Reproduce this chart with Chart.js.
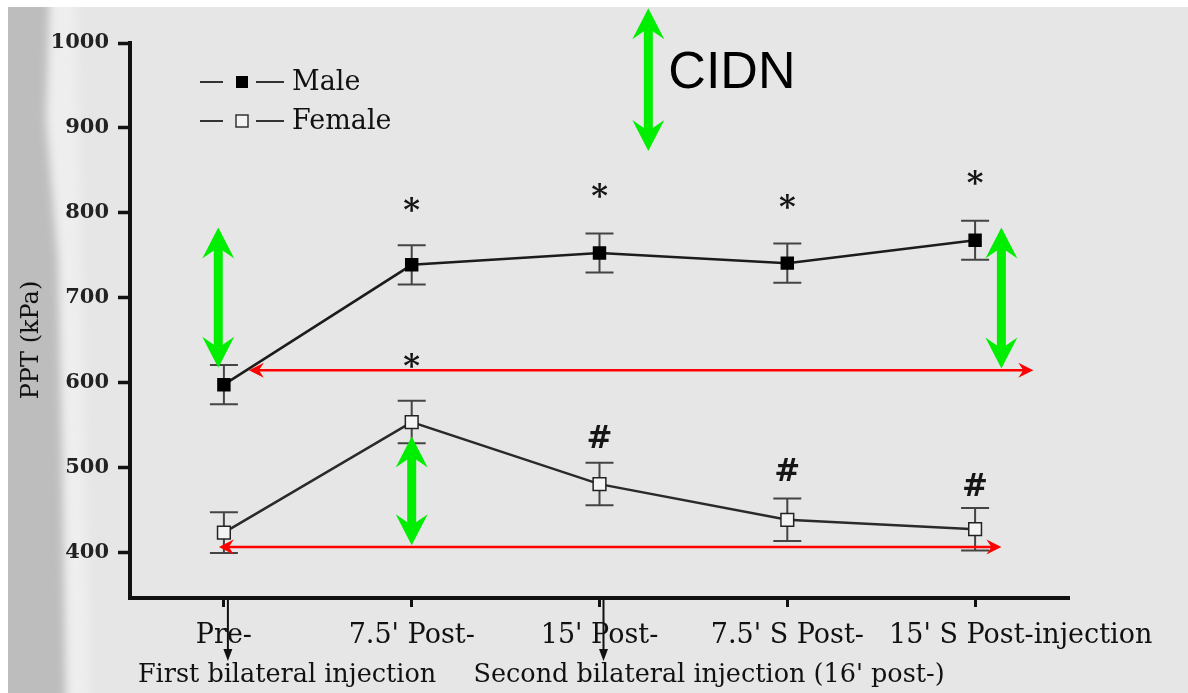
<!DOCTYPE html>
<html>
<head>
<meta charset="utf-8">
<script src="https://cdn.jsdelivr.net/npm/chart.js@4.4.1/dist/chart.umd.min.js"></script>
<style>
  html, body { margin: 0; padding: 0; background: #e6e6e6; }
  #wrap { width: 1188px; height: 693px; position: relative; }
</style>
</head>
<body>
<div id="wrap"><canvas id="chart"></canvas></div>
<script>
const categories = ["Pre-", "7.5' Post-", "15' Post-", "7.5' S Post-", "15' S Post-injection"];
const maleMean = [598, 739, 753, 741, 768];
const maleErr = [23, 23, 23, 23, 23];
const femaleMean = [424, 554, 481, 439, 428];
const femaleErr = [24, 25, 25, 25, 25];
const yTicks = [400, 500, 600, 700, 800, 900, 1000];

// significance marks: [category index, y value]
const starMarks = [[1, 809], [2, 825], [3, 812], [4, 840], [1, 625]];
const hashMarks = [[2, 533], [3, 494], [4, 476]];

// overlay arrows in data units: [x, yTop, yBottom]
const greenArrows = [[-0.03, 783, 618], [1, 537, 409], [4.14, 783, 617], [2.26, 1041, 873]];
// [xLeft, xRight, y]
const redArrows = [[0.133, 4.31, 615], [-0.027, 4.14, 407]];

const SERIF = "'DejaVu Serif', serif";

function arrowHead(ctx, x, y, dx, dy, len, half, notch) {
  // tip at (x,y), pointing along (dx,dy)
  const px = -dy, py = dx;
  ctx.beginPath();
  ctx.moveTo(x, y);
  ctx.lineTo(x - dx * len + px * half, y - dy * len + py * half);
  ctx.lineTo(x - dx * (len - notch), y - dy * (len - notch));
  ctx.lineTo(x - dx * len - px * half, y - dy * len - py * half);
  ctx.closePath();
  ctx.fill();
}

const background = {
  id: 'background',
  beforeDraw(chart) {
    const ctx = chart.ctx;
    const w = chart.width, h = chart.height;
    ctx.save();
    ctx.fillStyle = '#e6e6e6';
    ctx.fillRect(0, 0, w, h);
    // scanned left edge: light mottled strip, then the grey band
    ctx.filter = 'blur(6px)';
    ctx.fillStyle = '#eeeeee';
    ctx.beginPath();
    ctx.moveTo(-20, -20); ctx.lineTo(76, -20); ctx.lineTo(90, h + 20); ctx.lineTo(-20, h + 20);
    ctx.closePath();
    ctx.fill();
    ctx.filter = 'blur(4px)';
    ctx.fillStyle = '#bdbdbd';
    ctx.beginPath();
    ctx.moveTo(-20, -20); ctx.lineTo(50, -20); ctx.lineTo(46, 120);
    ctx.lineTo(58, 260); ctx.lineTo(62, 450); ctx.lineTo(66, h + 20);
    ctx.lineTo(-20, h + 20);
    ctx.closePath();
    ctx.fill();
    ctx.filter = 'none';
    ctx.fillStyle = '#ffffff';
    ctx.fillRect(0, 0, w, 7);
    ctx.fillRect(0, 0, 8, h);
    ctx.restore();
  }
};

const errorBars = {
  id: 'errorBars',
  beforeDatasetsDraw(chart) {
    const ctx = chart.ctx;
    const x = chart.scales.x, y = chart.scales.y;
    ctx.save();
    ctx.strokeStyle = '#444';
    ctx.lineWidth = 2;
    [[maleMean, maleErr], [femaleMean, femaleErr]].forEach(([m, e]) => {
      m.forEach((v, i) => {
        const px = x.getPixelForValue(i);
        const top = y.getPixelForValue(v + e[i]);
        const bot = y.getPixelForValue(v - e[i]);
        ctx.beginPath();
        ctx.moveTo(px, top); ctx.lineTo(px, bot);
        ctx.moveTo(px - 14, top); ctx.lineTo(px + 14, top);
        ctx.moveTo(px - 14, bot); ctx.lineTo(px + 14, bot);
        ctx.stroke();
      });
    });
    ctx.restore();
  }
};

const overlay = {
  id: 'overlay',
  afterDraw(chart) {
    const ctx = chart.ctx;
    const x = chart.scales.x, y = chart.scales.y;
    ctx.save();

    // x category labels
    ctx.fillStyle = '#111';
    ctx.font = '27px ' + SERIF;
    ctx.textBaseline = 'alphabetic';
    categories.forEach((c, i) => {
      const px = x.getPixelForValue(i);
      if (i === categories.length - 1) {
        ctx.textAlign = 'left';
        ctx.fillText(c, px - 86, 643);
      } else {
        ctx.textAlign = 'center';
        ctx.fillText(c, px, 643);
      }
    });

    // injection notes under the axis
    ctx.font = '25.5px ' + SERIF;
    ctx.textAlign = 'left';
    ctx.fillText('First bilateral injection', x.getPixelForValue(0) - 86, 682);
    ctx.fillText("Second bilateral injection (16' post-)", x.getPixelForValue(2) - 126, 682);
    ctx.strokeStyle = '#111';
    ctx.lineWidth = 2;
    [0, 2].forEach(i => {
      const px = x.getPixelForValue(i) + 4;
      ctx.beginPath();
      ctx.moveTo(px, chart.chartArea.bottom);
      ctx.lineTo(px, 652);
      ctx.stroke();
      arrowHead(ctx, px, 661, 0, 1, 12, 4.5, 0);
    });

    // y axis title
    ctx.save();
    ctx.translate(32, 340);
    ctx.rotate(-Math.PI / 2);
    ctx.textAlign = 'center';
    ctx.textBaseline = 'middle';
    ctx.font = '24px ' + SERIF;
    ctx.fillText('PPT (kPa)', 0, 0);
    ctx.restore();

    // legend
    const legendRows = [['Male', 82, true], ['Female', 121, false]];
    legendRows.forEach(([name, ly, filled]) => {
      ctx.strokeStyle = '#333';
      ctx.lineWidth = 2;
      ctx.beginPath();
      ctx.moveTo(200, ly); ctx.lineTo(223, ly);
      ctx.moveTo(256, ly); ctx.lineTo(284, ly);
      ctx.stroke();
      if (filled) {
        ctx.fillStyle = '#000';
        ctx.fillRect(236, ly - 6, 12, 12);
      } else {
        ctx.fillStyle = '#f4f4f4';
        ctx.fillRect(236, ly - 6, 12, 12);
        ctx.lineWidth = 1.5;
        ctx.strokeRect(236, ly - 6, 12, 12);
      }
      ctx.fillStyle = '#111';
      ctx.font = '27px ' + SERIF;
      ctx.textAlign = 'left';
      ctx.textBaseline = 'middle';
      ctx.fillText(name, 292, ly + 1);
    });

    // significance marks
    ctx.textAlign = 'center';
    ctx.textBaseline = 'middle';
    ctx.fillStyle = '#151515';
    ctx.font = 'bold 32px ' + SERIF;
    starMarks.forEach(([i, v]) => {
      ctx.fillText('*', x.getPixelForValue(i), y.getPixelForValue(v) + 6);
    });
    ctx.font = 'bold 31px ' + SERIF;
    hashMarks.forEach(([i, v]) => {
      ctx.fillText('#', x.getPixelForValue(i), y.getPixelForValue(v));
    });

    // red horizontal arrows
    ctx.strokeStyle = '#ff0000';
    ctx.fillStyle = '#ff0000';
    ctx.lineWidth = 2.5;
    redArrows.forEach(([a, b, v]) => {
      const x1 = x.getPixelForValue(a), x2 = x.getPixelForValue(b);
      const py = y.getPixelForValue(v);
      ctx.beginPath();
      ctx.moveTo(x1 + 8, py); ctx.lineTo(x2 - 8, py);
      ctx.stroke();
      arrowHead(ctx, x1, py, -1, 0, 15, 7.5, 5);
      arrowHead(ctx, x2, py, 1, 0, 15, 7.5, 5);
    });

    // green double arrows
    ctx.strokeStyle = '#00ee00';
    ctx.fillStyle = '#00ee00';
    ctx.lineWidth = 9;
    greenArrows.forEach(([a, v1, v2]) => {
      const px = x.getPixelForValue(a);
      const y1 = y.getPixelForValue(v1), y2 = y.getPixelForValue(v2);
      ctx.beginPath();
      ctx.moveTo(px, y1 + 20); ctx.lineTo(px, y2 - 20);
      ctx.stroke();
      arrowHead(ctx, px, y1, 0, -1, 31, 16, 11);
      arrowHead(ctx, px, y2, 0, 1, 31, 16, 11);
    });

    // CIDN label next to the top arrow
    const cx = x.getPixelForValue(greenArrows[3][0]);
    ctx.fillStyle = '#000';
    ctx.font = "52px 'Liberation Sans', Arial, sans-serif";
    ctx.textAlign = 'left';
    ctx.textBaseline = 'alphabetic';
    ctx.fillText('CIDN', cx + 20, 88);

    ctx.restore();
  }
};

new Chart(document.getElementById('chart'), {
  type: 'line',
  data: {
    labels: categories,
    datasets: [
      {
        label: 'Male',
        data: maleMean,
        borderColor: '#1c1c1c',
        borderWidth: 2.5,
        pointStyle: 'rect',
        pointRadius: 9.5,
        pointBackgroundColor: '#000',
        pointBorderColor: '#000',
        pointBorderWidth: 0,
        tension: 0
      },
      {
        label: 'Female',
        data: femaleMean,
        borderColor: '#2a2a2a',
        borderWidth: 2.5,
        pointStyle: 'rect',
        pointRadius: 9,
        pointBackgroundColor: '#f4f4f4',
        pointBorderColor: '#222',
        pointBorderWidth: 1.5,
        tension: 0
      }
    ]
  },
  options: {
    responsive: true,
    maintainAspectRatio: false,
    animation: false,
    events: [],
    layout: { padding: { left: 0, top: 43, right: 119, bottom: 0 } },
    plugins: {
      legend: { display: false },
      tooltip: { enabled: false }
    },
    scales: {
      x: {
        type: 'category',
        offset: true,
        grid: { drawOnChartArea: false, drawTicks: true, tickLength: 9, tickWidth: 3, tickColor: '#111' },
        border: { display: true, color: '#111', width: 4 },
        ticks: { display: false },
        afterFit(scale) { scale.height = 95; }
      },
      y: {
        type: 'linear',
        min: 347,
        max: 1000,
        afterBuildTicks(scale) { scale.ticks = yTicks.map(v => ({ value: v })); },
        grid: { drawOnChartArea: false, drawTicks: true, tickLength: 12, tickWidth: 3.5, tickColor: '#111' },
        border: { display: true, color: '#111', width: 4 },
        ticks: {
          padding: 9,
          color: '#222',
          font: { family: 'DejaVu Serif', size: 21, weight: 'bold' },
          callback: v => String(v)
        },
        afterFit(scale) { scale.width = 130; }
      }
    }
  },
  plugins: [background, errorBars, overlay]
});
</script>
</body>
</html>
